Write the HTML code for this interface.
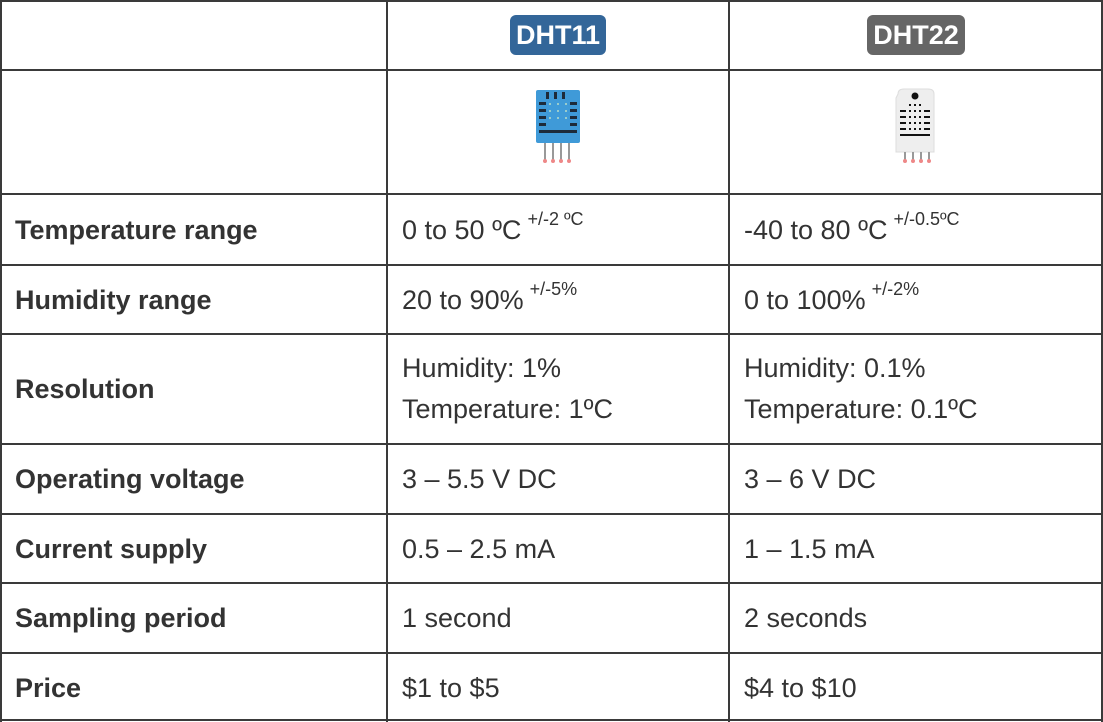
<!DOCTYPE html>
<html><head><meta charset="utf-8"><style>
html,body{margin:0;padding:0;background:#fff;}
#t{position:relative;width:1103px;height:722px;overflow:hidden;font-family:"Liberation Sans",Arial,sans-serif;color:#333;}
.h{position:absolute;left:0;width:1103px;height:2px;background:#3a3a3a;}
.v{position:absolute;top:0;width:2px;height:722px;background:#3a3a3a;}
.c{position:absolute;font-size:27px;line-height:30px;white-space:nowrap;}
.b{font-weight:bold;font-size:27px;}
sup{font-size:18px;position:relative;top:-5px;vertical-align:top;margin-left:6px;line-height:18px;}
.badge{position:absolute;top:15px;height:40px;border-radius:6px;color:#fff;font-weight:bold;font-size:27px;line-height:40px;text-align:center;}
</style></head><body>
<div id="t">
<div class="h" style="top:0"></div>
<div class="h" style="top:69px"></div>
<div class="h" style="top:193px"></div>
<div class="h" style="top:264px"></div>
<div class="h" style="top:333px"></div>
<div class="h" style="top:443px"></div>
<div class="h" style="top:513px"></div>
<div class="h" style="top:582px"></div>
<div class="h" style="top:652px"></div>
<div class="h" style="top:719px"></div>
<div class="v" style="left:0"></div>
<div class="v" style="left:386px"></div>
<div class="v" style="left:728px"></div>
<div class="v" style="left:1101px"></div>

<div class="badge" style="left:510px;width:96px;background:#336699">DHT11</div>
<div class="badge" style="left:867px;width:98px;background:#666">DHT22</div>

<svg style="position:absolute;left:530px;top:86px" width="56" height="80">
<rect x="6" y="4" width="44" height="53" rx="2" fill="#3f9ad8"/>
<g fill="#1d2b3a">
<rect x="16" y="6" width="3" height="7"/><rect x="24" y="6" width="3" height="7"/><rect x="32" y="6" width="3" height="7"/>
<rect x="9" y="16" width="7" height="3"/><rect x="40" y="16" width="7" height="3"/>
<rect x="9" y="23" width="7" height="3"/><rect x="40" y="23" width="7" height="3"/>
<rect x="9" y="30" width="7" height="3"/><rect x="40" y="30" width="7" height="3"/>
<rect x="9" y="37" width="7" height="3"/><rect x="40" y="37" width="7" height="3"/>
<rect x="9" y="44" width="38" height="3"/>
</g>
<g fill="#9cc"><rect x="19" y="17" width="2" height="2"/><rect x="27" y="17" width="2" height="2"/><rect x="35" y="17" width="2" height="2"/>
<rect x="19" y="24" width="2" height="2"/><rect x="27" y="24" width="2" height="2"/><rect x="35" y="24" width="2" height="2"/>
<rect x="19" y="31" width="2" height="2"/><rect x="27" y="31" width="2" height="2"/><rect x="35" y="31" width="2" height="2"/></g>
<g fill="#999"><rect x="14" y="57" width="2" height="17"/><rect x="22" y="57" width="2" height="17"/><rect x="30" y="57" width="2" height="17"/><rect x="38" y="57" width="2" height="17"/></g>
<g fill="#e88"><circle cx="15" cy="75" r="2"/><circle cx="23" cy="75" r="2"/><circle cx="31" cy="75" r="2"/><circle cx="39" cy="75" r="2"/></g>
</svg>

<svg style="position:absolute;left:890px;top:86px" width="50" height="80">
<path d="M8 8 Q8 3 14 3 L38 3 Q44 3 44 8 L44 66 L6 66 L6 12 Z" fill="#eee" stroke="#ddd"/>
<circle cx="25" cy="10" r="3.5" fill="#111"/>
<g fill="#111">
<rect x="10" y="24" width="6" height="2"/><rect x="34" y="24" width="6" height="2"/>
<rect x="10" y="30" width="6" height="2"/><rect x="34" y="30" width="6" height="2"/>
<rect x="10" y="36" width="6" height="2"/><rect x="34" y="36" width="6" height="2"/>
<rect x="10" y="42" width="6" height="2"/><rect x="34" y="42" width="6" height="2"/>
<rect x="10" y="48" width="30" height="2"/>
<rect x="19" y="18" width="2" height="2"/><rect x="24" y="18" width="2" height="2"/><rect x="29" y="18" width="2" height="2"/>
<rect x="19" y="24" width="2" height="2"/><rect x="24" y="24" width="2" height="2"/><rect x="29" y="24" width="2" height="2"/>
<rect x="19" y="30" width="2" height="2"/><rect x="24" y="30" width="2" height="2"/><rect x="29" y="30" width="2" height="2"/>
<rect x="19" y="36" width="2" height="2"/><rect x="24" y="36" width="2" height="2"/><rect x="29" y="36" width="2" height="2"/>
<rect x="19" y="42" width="2" height="2"/><rect x="24" y="42" width="2" height="2"/><rect x="29" y="42" width="2" height="2"/>
</g>
<g fill="#999"><rect x="14" y="66" width="2" height="8"/><rect x="22" y="66" width="2" height="8"/><rect x="30" y="66" width="2" height="8"/><rect x="38" y="66" width="2" height="8"/></g>
<g fill="#e88"><circle cx="15" cy="75" r="2"/><circle cx="23" cy="75" r="2"/><circle cx="31" cy="75" r="2"/><circle cx="39" cy="75" r="2"/></g>
</svg>

<div class="c b" style="left:15px;top:215px">Temperature range</div>
<div class="c" style="left:402px;top:215px">0 to 50 ºC<sup>+/-2 ºC</sup></div>
<div class="c" style="left:744px;top:215px">-40 to 80 ºC<sup>+/-0.5ºC</sup></div>

<div class="c b" style="left:15px;top:285px">Humidity range</div>
<div class="c" style="left:402px;top:285px">20 to 90%<sup>+/-5%</sup></div>
<div class="c" style="left:744px;top:285px">0 to 100%<sup>+/-2%</sup></div>

<div class="c b" style="left:15px;top:374px">Resolution</div>
<div class="c" style="left:402px;top:348px;line-height:41px">Humidity: 1%<br>Temperature: 1ºC</div>
<div class="c" style="left:744px;top:348px;line-height:41px">Humidity: 0.1%<br>Temperature: 0.1ºC</div>

<div class="c b" style="left:15px;top:464px">Operating voltage</div>
<div class="c" style="left:402px;top:464px">3 – 5.5 V DC</div>
<div class="c" style="left:744px;top:464px">3 – 6 V DC</div>

<div class="c b" style="left:15px;top:534px">Current supply</div>
<div class="c" style="left:402px;top:534px">0.5 – 2.5 mA</div>
<div class="c" style="left:744px;top:534px">1 – 1.5 mA</div>

<div class="c b" style="left:15px;top:603px">Sampling period</div>
<div class="c" style="left:402px;top:603px">1 second</div>
<div class="c" style="left:744px;top:603px">2 seconds</div>

<div class="c b" style="left:15px;top:673px">Price</div>
<div class="c" style="left:402px;top:673px">$1 to $5</div>
<div class="c" style="left:744px;top:673px">$4 to $10</div>
</div>
</body></html>
